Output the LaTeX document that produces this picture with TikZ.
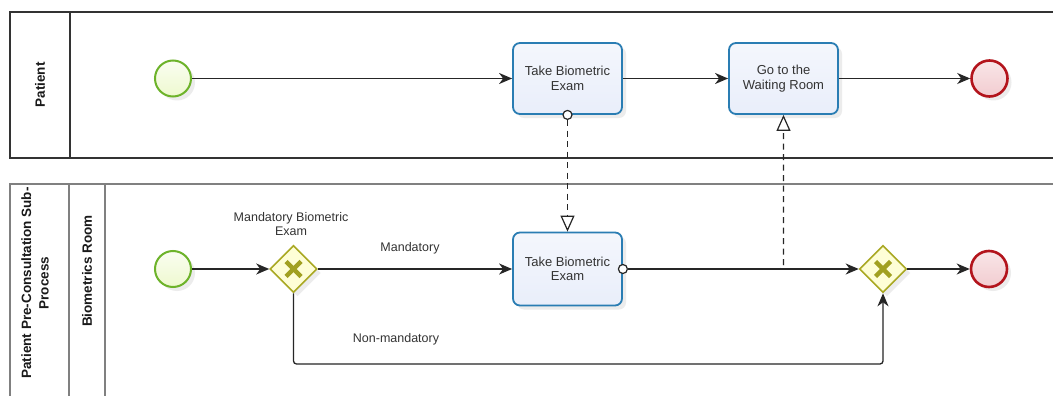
\documentclass[tikz,border=0pt]{standalone}
\usepackage{fontspec}
\setmainfont{Liberation Sans}
\usetikzlibrary{arrows.meta,shapes.geometric,shadows}
\definecolor{taskblue}{HTML}{2A7DB3}
\definecolor{taskfill}{HTML}{E9EEFA}
\definecolor{startgreen}{HTML}{6DB32A}
\definecolor{startfill}{HTML}{EEF9CF}
\definecolor{endred}{HTML}{B3141C}
\definecolor{endfill}{HTML}{F2CCD0}
\definecolor{gwolive}{HTML}{A9A823}
\definecolor{gwfill}{HTML}{FEFED6}
\definecolor{txtgray}{HTML}{333333}
\tikzset{
  shd/.style={drop shadow={opacity=0.15,shadow xshift=4pt,shadow yshift=-4pt}},
  task/.style={draw=taskblue,line width=1.8pt,rounded corners=7pt,minimum width=109pt,minimum height=71pt,
    top color=white!50!taskfill,bottom color=taskfill,shd,align=center,text=txtgray,
    font=\fontsize{13}{14.5}\selectfont,inner sep=2pt},
  startev/.style={circle,draw=startgreen,line width=2pt,minimum size=36pt,inner sep=0pt,
    top color=white!70!startfill,bottom color=startfill,shd},
  endev/.style={circle,draw=endred,line width=2.6pt,minimum size=36pt,inner sep=0pt,
    top color=endfill!50!white,bottom color=endfill,shd},
  gw/.style={diamond,draw=gwolive,line width=1.6pt,minimum width=47pt,minimum height=47pt,inner sep=0pt,
    fill=gwfill,shd},
  xmark/.style={gwolive!95!black,line width=4.5pt},
  seq/.style={draw=black!85,line width=1.3pt,-{Stealth[length=13pt,width=11pt,inset=4pt]}},
  msg/.style={draw=black!85,line width=1.2pt,dash pattern=on 6pt off 4.5pt,-{Triangle[open,length=16pt,width=14pt,fill=white]}},
  msgdot/.style={circle,draw=black!85,line width=1.2pt,fill=white,minimum size=9pt,inner sep=0pt},
  lbl/.style={text=txtgray,font=\fontsize{12.5}{14}\selectfont,align=center},
  lanelbl/.style={rotate=90,font=\bfseries\fontsize{13.5}{17.5}\selectfont,align=center,text=black!90},
  poolline/.style={draw=black!80,line width=1.2pt},
  poolline2/.style={draw=black!50,line width=1.2pt}
}
\begin{document}
\begin{tikzpicture}[x=1pt,y=-1pt]
\useasboundingbox[fill=white] (0,0) rectangle (1053,396);
% pools
\draw[poolline] (1070,12) -- (10,12) -- (10,158) -- (1070,158);
\draw[poolline] (70,12) -- (70,158);
\draw[poolline2] (1070,184) -- (10,184) -- (10,410);
\draw[poolline2] (69,184) -- (69,410);
\draw[poolline2] (105,184) -- (105,410);
\node[lanelbl] (lp) at (40,85) {Patient};
\node[lanelbl] (lpp) at (35,283) {Patient Pre-Consultation Sub-\\Process};
\node[lanelbl] (lbr) at (87,271) {Biometrics Room};
% patient lane
\node[startev] (s1) at (173,78.5) {};
\node[task] (t1) at (567.5,78.5) {Take Biometric\\Exam};
\node[task] (t2) at (783.5,78.5) {Go to the\\Waiting Room};
\node[endev] (e1) at (989.5,78.5) {};
% biometrics lane
\node[startev] (s2) at (173,269) {};
\node[gw] (g1) at (293.5,269) {};
\draw[xmark] ([xshift=-7.5pt,yshift=-7.5pt]g1.center) -- ([xshift=7.5pt,yshift=7.5pt]g1.center);
\draw[xmark] ([xshift=-7.5pt,yshift=7.5pt]g1.center) -- ([xshift=7.5pt,yshift=-7.5pt]g1.center);
\node[task,minimum height=73pt] (t3) at (567.5,269) {Take Biometric\\Exam};
\node[gw] (g2) at (883,269) {};
\draw[xmark] ([xshift=-7.5pt,yshift=-7.5pt]g2.center) -- ([xshift=7.5pt,yshift=7.5pt]g2.center);
\draw[xmark] ([xshift=-7.5pt,yshift=7.5pt]g2.center) -- ([xshift=7.5pt,yshift=-7.5pt]g2.center);
\node[endev] (e2) at (989,269) {};
\node[lbl] (lg1) at (291,224) {Mandatory Biometric\\Exam};
\node[lbl] (lm) at (410,248) {Mandatory};
\node[lbl] (lnm) at (396,339) {Non-mandatory};
% message flows
\node[msgdot] (m1) at (t1.south) {};
\node[msgdot] (m2) at (t3.east) {};
\draw[msg] (m1.south) -- (t3.north);
\draw[msg,rounded corners=4pt] (m2.east) -- (t2.south |- m2.east) -- (t2.south);
% sequence flows
\draw[seq] (s1) -- (t1);
\draw[seq] (t1) -- (t2);
\draw[seq] (t2) -- (e1);
\draw[seq] (s2) -- (g1);
\draw[seq] (g1) -- (t3);
\draw[seq] (m2.east) -- (g2.west);
\draw[seq] (g2) -- (e2);
\draw[seq,rounded corners=3pt] (g1.south) -- (g1.south |- 0,364) -- (g2.south |- 0,364) -- (g2.south);
\end{tikzpicture}
\end{document}
